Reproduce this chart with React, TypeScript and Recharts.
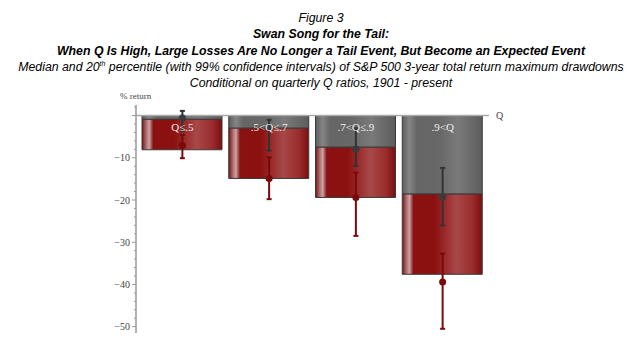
import {
  ComposedChart,
  Bar,
  Line,
  XAxis,
  YAxis,
  ErrorBar,
  LabelList,
  ReferenceLine,
} from 'recharts';

// Q ratio buckets
const categories = ['Q≤.5', '.5<Q≤.7', '.7<Q≤.9', '.9<Q'];

// bar heights (% return)
const barMedian = [-0.9, -3.0, -7.5, -18.6];
const barP20 = [-8.1, -14.9, -19.4, -37.6];

// point estimates with 99% confidence intervals
const dotMedian = [-0.6, -3.0, -7.9, -19.3];
const medianHigh = [1.1, -1.0, -3.0, -12.4];
const medianLow = [-3.7, -8.3, -11.9, -26.0];

const dotP20 = [-7.1, -14.9, -19.4, -39.4];
const p20High = [-4.6, -9.9, -13.5, -32.7];
const p20Low = [-10.1, -19.8, -28.5, -50.5];

const yTicks = Array.from({ length: 27 }, (_, i) => -50 + i * 2);

const data = categories.map((name, i) => ({
  name,
  zero: 0,
  gray: barMedian[i],
  red: barP20[i] - barMedian[i],
  dotMedian: dotMedian[i],
  medErr: [dotMedian[i] - medianLow[i], medianHigh[i] - dotMedian[i]],
  dotP20: dotP20[i],
  p20Err: [dotP20[i] - p20Low[i], p20High[i] - dotP20[i]],
}));

const serif = '"Liberation Serif", "DejaVu Serif", serif';

function YTick(props: any) {
  const { x, y, payload } = props;
  const v = payload.value as number;
  const major = v % 10 === 0;
  return (
    <g>
      <line x1={x} x2={x - (major ? 4 : 2)} y1={y} y2={y} stroke="#999" strokeWidth={1} />
      {major && v !== 0 && (
        <text x={x - 6} y={y + 3.5} textAnchor="end" fontSize={10} style={{ fontFamily: serif }} fill="#444">
          {`\u2212${Math.abs(v)}`}
        </text>
      )}
    </g>
  );
}

function BucketLabel(props: any) {
  const { x, y, value } = props;
  return (
    <text x={x} y={y + 15} textAnchor="middle" fontSize={11} style={{ fontFamily: serif }} fill="#eee">
      {value}
    </text>
  );
}

function GrayDot(props: any) {
  const { cx, cy } = props;
  return <circle cx={cx} cy={cy} r={3.5} fill="#3a3a3a" />;
}

function RedDot(props: any) {
  const { cx, cy } = props;
  return <circle cx={cx} cy={cy} r={3.5} fill="#7a0a0a" />;
}

export default function App() {
  return (
    <div style={{ position: 'relative', width: 626, height: 345, fontFamily: '"Liberation Sans", Arial, sans-serif' }}>
      <div
        style={{
          position: 'absolute',
          top: 2,
          left: 0,
          width: 626,
          textAlign: 'center',
          fontSize: 12.3,
          lineHeight: '16.25px',
          fontStyle: 'italic',
          color: '#000',
          zIndex: 2,
        }}
      >
        <div>Figure 3</div>
        <div style={{ fontWeight: 'bold' }}>Swan Song for the Tail:</div>
        <div style={{ fontWeight: 'bold' }}>
          When Q Is High, Large Losses Are No Longer a Tail Event, But Become an Expected Event
        </div>
        <div>
          Median and 20<sup style={{ fontSize: 7, lineHeight: 0 }}>th</sup> percentile (with 99% confidence intervals) of
          S&amp;P 500 3-year total return maximum drawdowns
        </div>
        <div>Conditional on quarterly Q ratios, 1901 - present</div>
      </div>
      <div
        style={{
          position: 'absolute',
          top: 83,
          left: 112,
          fontSize: 9,
          fontFamily: serif,
          color: '#444',
          zIndex: 2,
        }}
      >
        % return
      </div>
      <div style={{ position: 'absolute', top: 0, left: 0 }}>
        <ComposedChart
          width={626}
          height={345}
          data={data}
          margin={{ top: 97, right: 145, bottom: 20, left: 88 }}
        >
          <defs>
            <linearGradient id="redGrad" x1="0" y1="0" x2="1" y2="0">
              <stop offset="0%" stopColor="#7c1010" />
              <stop offset="5%" stopColor="#a86a6a" />
              <stop offset="9%" stopColor="#c9a4a4" />
              <stop offset="14%" stopColor="#8a1212" />
              <stop offset="40%" stopColor="#8c1010" />
              <stop offset="68%" stopColor="#a84848" />
              <stop offset="88%" stopColor="#9a2c2c" />
              <stop offset="100%" stopColor="#7a0e0e" />
            </linearGradient>
            <linearGradient id="grayGrad" x1="0" y1="0" x2="1" y2="0">
              <stop offset="0%" stopColor="#5e5e5e" />
              <stop offset="9%" stopColor="#858585" />
              <stop offset="18%" stopColor="#666" />
              <stop offset="45%" stopColor="#676767" />
              <stop offset="70%" stopColor="#7a7a7a" />
              <stop offset="100%" stopColor="#5c5c5c" />
            </linearGradient>
          </defs>
          <XAxis dataKey="name" hide padding={{ left: 3, right: 3 }} />
          <YAxis
            domain={[-51.5, 2.5]}
            ticks={yTicks}
            interval={0}
            width={40}
            axisLine={{ stroke: '#999', strokeWidth: 1.5 }}
            tickLine={false}
            tickSize={0}
            tickMargin={0}
            tick={<YTick />}
          />
          <Bar dataKey="gray" stackId="a" barSize={80} fill="url(#grayGrad)" stroke="#3a3a3a" strokeWidth={1} isAnimationActive={false} />
          <Bar dataKey="red" stackId="a" barSize={80} fill="url(#redGrad)" stroke="#3a3a3a" strokeWidth={1} isAnimationActive={false} />
          <ReferenceLine
            y={0}
            stroke="#aaa"
            strokeWidth={1.5}
            label={{ value: 'Q', position: 'right', fill: '#444', fontSize: 10, fontFamily: serif, offset: 7 }}
          />
          <Line dataKey="zero" stroke="none" dot={false} activeDot={false} isAnimationActive={false}>
            <LabelList dataKey="name" content={<BucketLabel />} />
          </Line>
          <Line dataKey="dotP20" stroke="none" dot={<RedDot />} activeDot={false} isAnimationActive={false}>
            <ErrorBar dataKey="p20Err" direction="y" width={2.5} stroke="#7a0a0a" strokeWidth={2} />
          </Line>
          <Line dataKey="dotMedian" stroke="none" dot={<GrayDot />} activeDot={false} isAnimationActive={false}>
            <ErrorBar dataKey="medErr" direction="y" width={2.5} stroke="#333" strokeWidth={2} />
          </Line>
        </ComposedChart>
      </div>
    </div>
  );
}
